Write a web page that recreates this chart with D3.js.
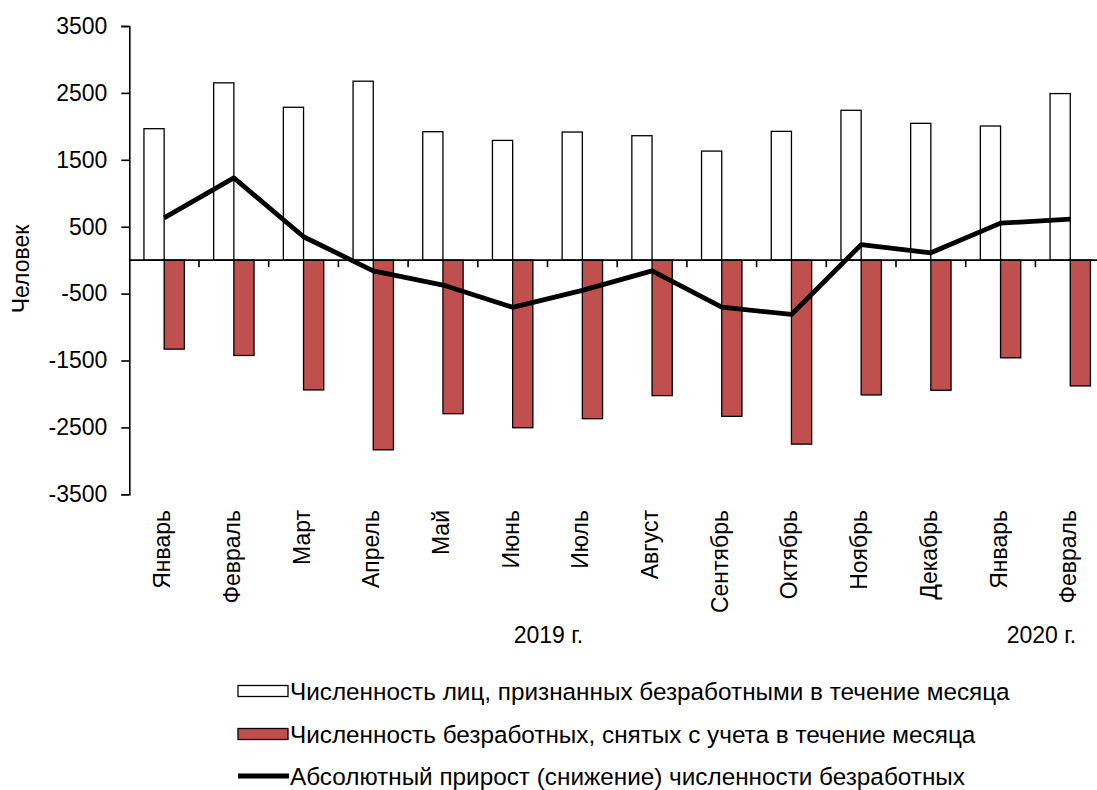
<!DOCTYPE html>
<html>
<head>
<meta charset="utf-8">
<script src="https://cdn.jsdelivr.net/npm/d3@7/dist/d3.min.js"></script>
<style>
  html, body { margin: 0; padding: 0; background: #fff; }
  svg { display: block; font-family: "Liberation Sans", Arial, sans-serif; }
</style>
</head>
<body>
<svg id="chart" width="1097" height="790"></svg>
<script>
// ---- data ----
const months = ["Январь","Февраль","Март","Апрель","Май","Июнь","Июль","Август","Сентябрь","Октябрь","Ноябрь","Декабрь","Январь","Февраль"];
const registered = [1965, 2650, 2285, 2675, 1920, 1790, 1915, 1860, 1630, 1925, 2240, 2045, 2005, 2490];
const removed = [-1330, -1425, -1940, -2835, -2295, -2505, -2370, -2025, -2335, -2750, -2015, -1945, -1460, -1880];
const netChange = [632, 1230, 350, -160, -372, -705, -452, -160, -703, -812, 232, 110, 553, 612];
const years = [{label: "2019 г.", from: 0, to: 11}, {label: "2020 г.", from: 12, to: 13}];
const yTicks = [3500, 2500, 1500, 500, -500, -1500, -2500, -3500];
const legendLabels = [
  "Численность лиц, признанных безработными в течение месяца",
  "Численность безработных, снятых с учета в течение месяца",
  "Абсолютный прирост (снижение) численности безработных"
];
const colors = {registered: "#ffffff", removed: "#C0504D", line: "#000000"};

// ---- layout ----
const svg = d3.select("#chart");
const axisX = 129.3, band = 69.7;
const x = d3.scaleBand().domain(d3.range(months.length)).range([axisX, axisX + band * months.length]).padding(0);
const y = d3.scaleLinear().domain([-3500, 3500]).range([494.3, 26]);
const barW = 20.2;
const fontSize = 23;
const legendFont = 24.3;

// bars: registered (left of center)
svg.append("g").selectAll("rect").data(registered).join("rect")
  .attr("x", (d, i) => x(i) + x.bandwidth() / 2 - barW)
  .attr("y", d => y(d))
  .attr("width", barW)
  .attr("height", d => y(0) - y(d))
  .attr("fill", colors.registered)
  .attr("stroke", "#000").attr("stroke-width", 1.3);

// bars: removed (right of center)
svg.append("g").selectAll("rect").data(removed).join("rect")
  .attr("x", (d, i) => x(i) + x.bandwidth() / 2)
  .attr("y", y(0))
  .attr("width", barW)
  .attr("height", d => y(d) - y(0))
  .attr("fill", colors.removed)
  .attr("stroke", "#000").attr("stroke-width", 1.3);

// zero line with category boundary ticks
const zeroY = y(0);
svg.append("line").attr("x1", axisX).attr("x2", 1097).attr("y1", zeroY).attr("y2", zeroY)
  .attr("stroke", "#000").attr("stroke-width", 1.6);
svg.append("g").selectAll("line").data(d3.range(1, months.length)).join("line")
  .attr("x1", i => x(i)).attr("x2", i => x(i))
  .attr("y1", zeroY).attr("y2", zeroY + 7)
  .attr("stroke", "#000").attr("stroke-width", 1.6);

// y axis
const yAxis = d3.axisLeft(y).tickValues(yTicks).tickSize(8).tickPadding(14).tickFormat(d => String(d));
const gy = svg.append("g").attr("transform", `translate(${axisX},0)`).call(yAxis);
gy.select(".domain").attr("stroke", "#000").attr("stroke-width", 1.6);
gy.selectAll(".tick line").attr("stroke", "#000").attr("stroke-width", 1.6);
gy.selectAll(".tick text").attr("font-size", fontSize).attr("font-family", "Liberation Sans, Arial, sans-serif").attr("fill", "#000");

// line
const line = d3.line().x((d, i) => x(i) + x.bandwidth() / 2).y(d => y(d));
svg.append("path").datum(netChange).attr("d", line)
  .attr("fill", "none").attr("stroke", colors.line).attr("stroke-width", 4.8)
  .attr("stroke-linejoin", "round").attr("stroke-linecap", "butt");

// month labels (rotated)
svg.append("g").selectAll("text").data(months).join("text")
  .attr("transform", (d, i) => `translate(${x(i) + x.bandwidth() / 2 + 6},510) rotate(-90)`)
  .attr("text-anchor", "end")
  .attr("font-size", fontSize)
  .attr("fill", "#000")
  .text(d => d);

// year labels
svg.append("g").selectAll("text").data(years).join("text")
  .attr("x", (d, i) => (x(d.from) + x(d.to) + x.bandwidth()) / 2 + (i === 0 ? 1 : 6))
  .attr("y", 643)
  .attr("text-anchor", "middle")
  .attr("font-size", fontSize)
  .attr("fill", "#000")
  .text(d => d.label);

// y title
svg.append("text")
  .attr("transform", "translate(29,269) rotate(-90)")
  .attr("text-anchor", "middle")
  .attr("font-size", fontSize)
  .attr("fill", "#000")
  .text("Человек");

// legend
const legRows = [691, 734, 776];
const lg = svg.append("g");
lg.append("rect").attr("x", 238).attr("y", legRows[0] - 5.5).attr("width", 50).attr("height", 11)
  .attr("fill", colors.registered).attr("stroke", "#000").attr("stroke-width", 1.3);
lg.append("rect").attr("x", 238).attr("y", legRows[1] - 5.5).attr("width", 50).attr("height", 11)
  .attr("fill", colors.removed).attr("stroke", "#000").attr("stroke-width", 1.3);
lg.append("line").attr("x1", 238).attr("x2", 289).attr("y1", legRows[2]).attr("y2", legRows[2])
  .attr("stroke", colors.line).attr("stroke-width", 4.8);
lg.selectAll("text").data(legendLabels).join("text")
  .attr("x", 290)
  .attr("y", (d, i) => legRows[i])
  .attr("dy", "0.36em")
  .attr("font-size", legendFont)
  .attr("fill", "#000")
  .text(d => d);
</script>
</body>
</html>
